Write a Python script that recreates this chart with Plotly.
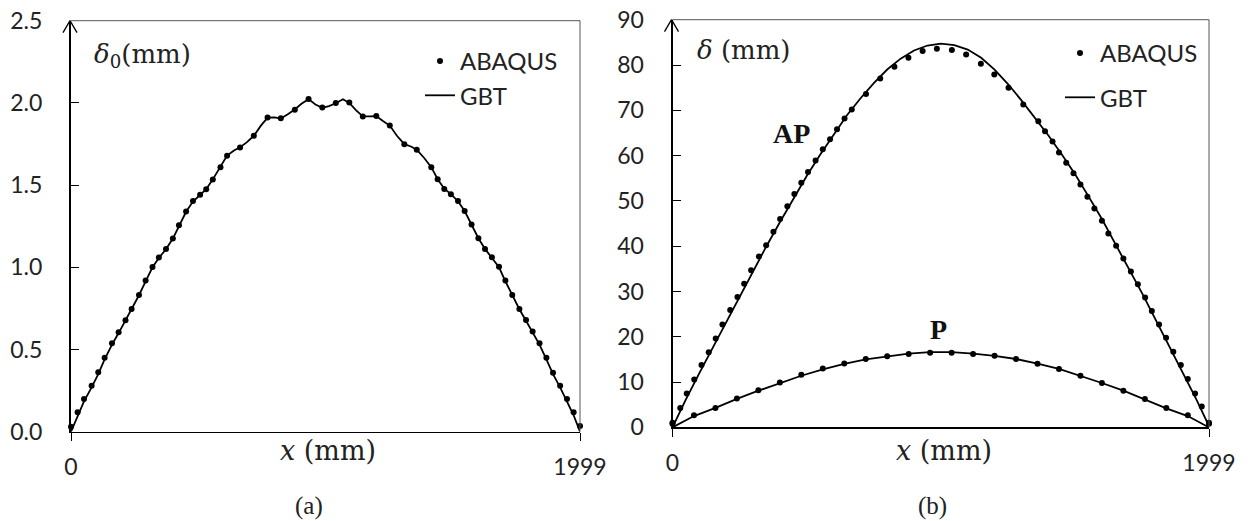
import plotly.graph_objects as go

# ---------------- data ----------------
# (a) delta_0 along x
ABQ0_X = [0, 26, 51, 81, 107, 132, 161, 187, 214, 238, 267, 293, 320, 345, 373, 400, 424, 452, 479, 507,
          531, 557, 587, 613, 664, 718, 772, 824, 879, 933, 987, 1040, 1093, 1146, 1199, 1252, 1309, 1358, 1415, 1440,
          1466, 1492, 1520, 1546, 1573, 1600, 1626, 1653, 1681, 1706, 1733, 1761, 1787, 1813, 1840, 1867, 1893, 1921, 1948, 1974,
          1999]
ABQ0_Y = [0.03, 0.118, 0.199, 0.28, 0.361, 0.45, 0.538, 0.605, 0.678, 0.747, 0.832, 0.919, 1.002, 1.059, 1.112, 1.175, 1.256, 1.339, 1.404, 1.441,
          1.475, 1.534, 1.609, 1.678, 1.729, 1.80, 1.911, 1.907, 1.958, 2.023, 1.972, 1.999, 2.002, 1.917, 1.921, 1.862, 1.749, 1.715, 1.609, 1.536,
          1.477, 1.445, 1.404, 1.343, 1.26, 1.177, 1.112, 1.061, 1.004, 0.919, 0.832, 0.747, 0.68, 0.609, 0.538, 0.45, 0.359, 0.28, 0.199, 0.118,
          0.035]

GBT0_X = [0, 26, 51, 81, 107, 132, 161, 187, 214, 238, 267, 293, 320, 345, 373, 400, 424, 452, 479, 507,
          531, 557, 587, 613, 640, 664, 690, 718, 745, 772, 800, 824, 850, 879, 905, 933, 960, 987, 1013, 1040,
          1068, 1093, 1120, 1146, 1172, 1199, 1225, 1252, 1280, 1309, 1335, 1358, 1387, 1415, 1440, 1466, 1492, 1520, 1546, 1573,
          1600, 1626, 1653, 1681, 1706, 1733, 1761, 1787, 1813, 1840, 1867, 1893, 1921, 1948, 1974, 1999]
GBT0_Y = [0.0, 0.10, 0.185, 0.27, 0.35, 0.44, 0.53, 0.60, 0.675, 0.745, 0.83, 0.915, 1.0, 1.057, 1.11, 1.175, 1.255, 1.338, 1.40, 1.44,
          1.475, 1.535, 1.61, 1.68, 1.71, 1.73, 1.76, 1.80, 1.86, 1.91, 1.912, 1.905, 1.93, 1.96, 1.995, 2.023, 1.99, 1.97, 1.98, 1.998,
          2.022, 2.0, 1.955, 1.918, 1.918, 1.92, 1.89, 1.862, 1.80, 1.749, 1.735, 1.715, 1.665, 1.609, 1.536, 1.478, 1.445, 1.402, 1.342, 1.26,
          1.177, 1.112, 1.06, 1.0, 0.915, 0.83, 0.745, 0.675, 0.60, 0.53, 0.44, 0.35, 0.27, 0.185, 0.10, 0.0]

# (b) delta along x, cases AP and P
AP_X = [0, 29, 53, 81, 108, 135, 161, 186, 215, 242, 267, 293, 322, 349, 376, 401, 428, 454, 480, 505,
        533, 560, 587, 613, 641, 668, 721, 774, 827, 879, 932, 985, 1041, 1094, 1149, 1199, 1252, 1307, 1363, 1388,
        1416, 1440, 1467, 1494, 1520, 1546, 1572, 1600, 1624, 1653, 1680, 1708, 1734, 1761, 1786, 1813, 1839, 1866, 1894, 1920,
        1947, 1972, 1999]
AP_Y = [1.0, 4.3, 7.5, 10.6, 13.8, 16.6, 19.6, 22.7, 25.9, 28.8, 31.7, 34.7, 37.7, 40.2, 43.2, 46.0, 48.8, 51.5, 54.0, 56.4,
        58.9, 61.4, 63.6, 65.8, 68.2, 70.2, 73.6, 77.0, 79.6, 81.6, 83.1, 83.6, 83.3, 82.3, 80.3, 77.9, 75.0, 71.3, 67.6, 65.4,
        63.1, 60.7, 58.4, 56.1, 53.6, 50.9, 48.3, 45.6, 42.8, 40.1, 37.3, 34.4, 31.6, 28.7, 25.7, 22.7, 19.8, 16.7, 13.8, 10.7,
        7.5, 4.6, 1.0]

APL_X = [0, 50, 100, 150, 200, 250, 300, 350, 400, 450, 500, 550, 600, 650, 700, 750, 800, 850, 900, 950,
         1000, 1050, 1100, 1150, 1200, 1250, 1300, 1350, 1400, 1450, 1500, 1550, 1600, 1650, 1700, 1750, 1800, 1850, 1900, 1950,
         1999]
APL_Y = [0.0, 6.2, 12.0, 17.6, 23.3, 29.0, 34.6, 40.0, 45.3, 50.5, 55.5, 60.2, 64.7, 68.9, 72.6, 76.0, 79.0, 81.4, 83.2, 84.3,
         84.7, 84.4, 83.4, 81.6, 79.0, 75.8, 72.2, 68.4, 64.5, 60.3, 55.9, 51.0, 46.0, 40.5, 35.1, 29.6, 23.8, 18.0, 12.3, 6.4,
         0.3]

P_X = [0, 80, 160, 240, 320, 400, 480, 560, 640, 720, 800, 880, 960, 1040, 1120, 1200, 1280, 1360, 1440, 1520,
       1600, 1680, 1760, 1840, 1920, 1999]
P_Y = [0.8, 2.7, 4.3, 6.4, 8.2, 9.9, 11.6, 13.0, 14.1, 15.1, 15.7, 16.2, 16.5, 16.5, 16.2, 15.8, 15.1, 14.05, 12.9, 11.4,
       9.8, 8.1, 6.25, 4.3, 2.7, 0.8]
PL_Y = [0.0, 2.5, 4.3, 6.3, 8.1, 9.8, 11.4, 12.8, 14.0, 15.0, 15.7, 16.3, 16.6, 16.6, 16.3, 15.8, 15.1, 14.1, 12.9, 11.4,
        9.8, 8.1, 6.2, 4.2, 2.5, 0.0]

X_TICKVALS = [0, 1999]
X_TICKTEXT = ["0", "1999"]
Y0_TICKS = [0.0, 0.5, 1.0, 1.5, 2.0, 2.5]
Y1_TICKS = [0, 10, 20, 30, 40, 50, 60, 70, 80, 90]

W, H = 1249, 521
TICKFONT = dict(family="Lato, 'Open Sans', sans-serif", size=23, color="#222222")
LEGFONT = dict(family="Lato, 'Open Sans', sans-serif", size=24, color="#222222")
LBLFONT = dict(family="'DejaVu Serif', serif", size=26, color="#222222")
XLBLFONT = dict(family="'DejaVu Serif', serif", size=27, color="#222222")
CAPFONT = dict(family="'Liberation Serif', 'Times New Roman', serif", size=25, color="#222222")
BOLDFONT = dict(family="'Liberation Serif', 'Times New Roman', serif", size=28, color="#111111")

dot = dict(color="black", size=6)
line = dict(color="black", width=1.8)

fig = go.Figure()
# panel (a)
fig.add_trace(go.Scatter(x=GBT0_X, y=GBT0_Y, mode="lines", line=line, name="GBT", xaxis="x", yaxis="y",
                         legend="legend", legendgroup="g1", legendrank=2, cliponaxis=False))
fig.add_trace(go.Scatter(x=ABQ0_X, y=ABQ0_Y, mode="markers", marker=dot, name="ABAQUS", xaxis="x", yaxis="y",
                         legend="legend", legendgroup="a1", legendrank=1, cliponaxis=False))
# panel (b)
fig.add_trace(go.Scatter(x=APL_X, y=APL_Y, mode="lines", line=line, name="GBT", xaxis="x2", yaxis="y2",
                         legend="legend2", legendgroup="g2", legendrank=2, cliponaxis=False))
fig.add_trace(go.Scatter(x=P_X, y=PL_Y, mode="lines", line=line, name="GBT P", xaxis="x2", yaxis="y2",
                         showlegend=False, cliponaxis=False))
fig.add_trace(go.Scatter(x=AP_X, y=AP_Y, mode="markers", marker=dot, name="ABAQUS", xaxis="x2", yaxis="y2",
                         legend="legend2", legendgroup="a2", legendrank=1, cliponaxis=False))
fig.add_trace(go.Scatter(x=P_X, y=P_Y, mode="markers", marker=dot, name="ABAQUS P", xaxis="x2", yaxis="y2",
                         showlegend=False, cliponaxis=False))


def xax(dom, anchor):
    return dict(domain=dom, anchor=anchor, range=[0, 1999], tickvals=X_TICKVALS, ticktext=X_TICKTEXT,
                ticks="outside", ticklen=8, tickwidth=1, tickcolor="black", showline=True, linecolor="black",
                linewidth=1.5, showgrid=False, zeroline=False, tickfont=TICKFONT, ticklabelstandoff=6,
                fixedrange=True, automargin=False)


def yax(dom, anchor, rng, tv, fmt):
    return dict(domain=dom, anchor=anchor, range=rng, tickvals=tv, tickformat=fmt,
                ticks="inside", ticklen=8, tickwidth=1, tickcolor="black", showline=True, linecolor="black",
                linewidth=2, showgrid=False, zeroline=False, tickfont=TICKFONT, ticklabelstandoff=22,
                fixedrange=True, automargin=False)


X0_DOM = [71 / W, 580 / W]
X1_DOM = [672.5 / W, 1209 / W]
Y0_DOM = [(H - 431.7) / H, (H - 20.7) / H]
Y1_DOM = [(H - 427.4) / H, (H - 19.7) / H]

fig.update_layout(
    template="none",
    width=W, height=H, autosize=False,
    margin=dict(l=0, r=0, t=0, b=0, pad=0, autoexpand=False),
    paper_bgcolor="white", plot_bgcolor="white",
    xaxis=xax(X0_DOM, "y"),
    yaxis=yax(Y0_DOM, "x", [0, 2.5], Y0_TICKS, ".1f"),
    xaxis2=xax(X1_DOM, "y2"),
    yaxis2=yax(Y1_DOM, "x2", [0, 90], Y1_TICKS, "d"),
    legend=dict(x=420 / W, y=1 - 39 / H, xanchor="left", yanchor="top", font=LEGFONT,
                bgcolor="rgba(0,0,0,0)", borderwidth=0, tracegroupgap=0, itemclick=False, itemdoubleclick=False),
    legend2=dict(x=1060 / W, y=1 - 31 / H, xanchor="left", yanchor="top", font=LEGFONT,
                 bgcolor="rgba(0,0,0,0)", borderwidth=0, tracegroupgap=10, itemclick=False, itemdoubleclick=False),
    showlegend=True,
)

annotations = [
    dict(text="<i>δ</i><sub>0</sub>(mm)", x=92 / W, y=1 - 56 / H, xref="paper", yref="paper",
         xanchor="left", yanchor="middle", showarrow=False, font=LBLFONT),
    dict(text="<i>δ</i> (mm)", x=695 / W, y=1 - 50 / H, xref="paper", yref="paper",
         xanchor="left", yanchor="middle", showarrow=False, font=LBLFONT),
    dict(text="<i>x</i> (mm)", x=328 / W, y=1 - 450 / H, xref="paper", yref="paper",
         xanchor="center", yanchor="middle", showarrow=False, font=XLBLFONT),
    dict(text="<i>x</i> (mm)", x=944 / W, y=1 - 450 / H, xref="paper", yref="paper",
         xanchor="center", yanchor="middle", showarrow=False, font=XLBLFONT),
    dict(text="(a)", x=309 / W, y=1 - 506 / H, xref="paper", yref="paper",
         xanchor="center", yanchor="middle", showarrow=False, font=CAPFONT),
    dict(text="(b)", x=932 / W, y=1 - 506 / H, xref="paper", yref="paper",
         xanchor="center", yanchor="middle", showarrow=False, font=CAPFONT),
    dict(text="<b>AP</b>", x=442, y=64.8, xref="x2", yref="y2", showarrow=False, font=BOLDFONT),
    dict(text="<b>P</b>", x=990, y=21.6, xref="x2", yref="y2", showarrow=False, font=BOLDFONT),
]
fig.update_layout(annotations=annotations)

shapes = []
for xr, yr, xd, yd in (("x", "y", X0_DOM, Y0_DOM), ("x2", "y2", X1_DOM, Y1_DOM)):
    # thin frame on top and right
    shapes.append(dict(type="line", xref=xr + " domain", yref=yr + " domain", x0=0, x1=1, y0=1, y1=1,
                       line=dict(color="#555555", width=1)))
    shapes.append(dict(type="line", xref=xr + " domain", yref=yr + " domain", x0=1, x1=1, y0=0, y1=1,
                       line=dict(color="#555555", width=1)))
    # open arrowhead at top of the vertical axis (paper coordinates)
    ax_x = xd[0] - 1 / W
    top = yd[1]
    for dx in (-7, 7):
        shapes.append(dict(type="line", xref="paper", yref="paper",
                           x0=ax_x + dx / W, y0=top - 12 / H, x1=ax_x, y1=top,
                           line=dict(color="black", width=1.3)))
fig.update_layout(shapes=shapes)

fig.write_html("out.html", config={"displayModeBar": False, "staticPlot": True})
